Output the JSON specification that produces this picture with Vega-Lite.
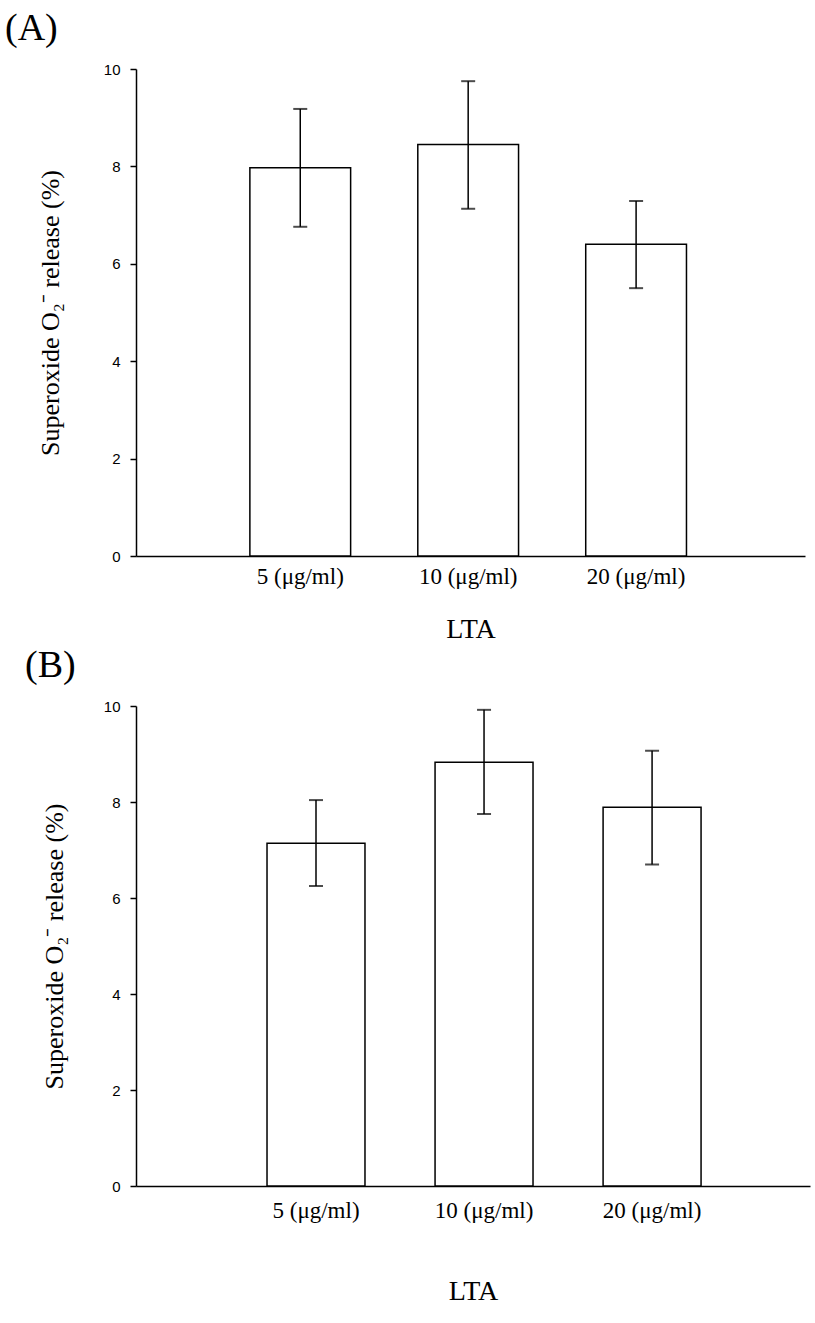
{
  "$schema": "https://vega.github.io/schema/vega-lite/v6.json",
  "background": "white",
  "padding": {"left": 5, "top": 10, "right": 5, "bottom": 5},
  "columns": 1,
  "spacing": 4,
  "datasets": {
    "d": [
      {"panel": "A", "dose": "5 (μg/ml)", "mean": 7.97, "lo": 6.76, "hi": 9.18},
      {"panel": "A", "dose": "10 (μg/ml)", "mean": 8.45, "lo": 7.13, "hi": 9.75},
      {"panel": "A", "dose": "20 (μg/ml)", "mean": 6.40, "lo": 5.50, "hi": 7.29},
      {"panel": "B", "dose": "5 (μg/ml)", "mean": 7.14, "lo": 6.25, "hi": 8.04},
      {"panel": "B", "dose": "10 (μg/ml)", "mean": 8.83, "lo": 7.75, "hi": 9.92},
      {"panel": "B", "dose": "20 (μg/ml)", "mean": 7.89, "lo": 6.70, "hi": 9.07}
    ]
  },
  "config": {
    "view": {"stroke": null},
    "axis": {"grid": false, "domainColor": "black", "tickColor": "black", "labelColor": "black", "titleColor": "black", "domainWidth": 1.5, "tickWidth": 1.5},
    "title": {"font": "Liberation Serif", "fontWeight": "normal", "fontSize": 38, "color": "black"}
  },
  "concat": [
    {
      "width": 669,
      "height": 487,
      "title": {"text": "(A)", "anchor": "start", "frame": "group", "dx": -131, "offset": 14},
      "data": {"name": "d"},
      "transform": [{"filter": "datum.panel === 'A'"}],
      "encoding": {
        "x": {
          "field": "dose", "type": "nominal",
          "sort": ["5 (μg/ml)", "10 (μg/ml)", "20 (μg/ml)"],
          "scale": {"paddingInner": 0.4, "paddingOuter": 0.692, "align": 0.49},
          "axis": {"title": "LTA", "labelAngle": 0, "ticks": false, "tickSize": 0, "labelPadding": 9, "labelFont": "Liberation Serif", "labelFontSize": 23, "titleFont": "Liberation Serif", "titleFontSize": 28, "titleFontWeight": "normal", "titlePadding": 27}
        }
      },
      "layer": [
        {
          "mark": {"type": "bar", "fill": "white", "stroke": "black", "strokeWidth": 1.5},
          "encoding": {
            "y": {"field": "mean", "type": "quantitative", "title": "Superoxide O₂⁻ release (%)",
              "scale": {"domain": [0, 10], "nice": false},
              "axis": {"values": [0, 2, 4, 6, 8, 10], "tickSize": 6, "labelPadding": 10, "labelFont": "Liberation Sans", "labelFontSize": 15, "titleFont": "Liberation Serif", "titleFontSize": 26, "titleFontWeight": "normal", "titlePadding": 40}}
          }
        },
        {
          "mark": {"type": "rule", "color": "black", "strokeWidth": 1.5},
          "encoding": {
            "y": {"field": "lo", "type": "quantitative", "title": "Superoxide O₂⁻ release (%)"},
            "y2": {"field": "hi"}
          }
        },
        {
          "mark": {"type": "tick", "color": "black", "size": 14, "thickness": 2},
          "encoding": {"y": {"field": "lo", "type": "quantitative", "title": "Superoxide O₂⁻ release (%)"}}
        },
        {
          "mark": {"type": "tick", "color": "black", "size": 14, "thickness": 2},
          "encoding": {"y": {"field": "hi", "type": "quantitative", "title": "Superoxide O₂⁻ release (%)"}}
        }
      ]
    },
    {
      "width": 674,
      "height": 480,
      "title": {"text": "(B)", "anchor": "start", "frame": "group", "dx": -111, "offset": 14},
      "data": {"name": "d"},
      "transform": [{"filter": "datum.panel === 'B'"}],
      "encoding": {
        "x": {
          "field": "dose", "type": "nominal",
          "sort": ["5 (μg/ml)", "10 (μg/ml)", "20 (μg/ml)"],
          "scale": {"paddingInner": 0.417, "paddingOuter": 0.714, "align": 0.546},
          "axis": {"title": "LTA", "labelAngle": 0, "ticks": false, "tickSize": 0, "labelPadding": 13, "labelFont": "Liberation Serif", "labelFontSize": 23, "titleFont": "Liberation Serif", "titleFontSize": 28, "titleFontWeight": "normal", "titlePadding": 55}
        }
      },
      "layer": [
        {
          "mark": {"type": "bar", "fill": "white", "stroke": "black", "strokeWidth": 1.5},
          "encoding": {
            "y": {"field": "mean", "type": "quantitative", "title": "Superoxide O₂⁻ release (%)",
              "scale": {"domain": [0, 10], "nice": false},
              "axis": {"values": [0, 2, 4, 6, 8, 10], "tickSize": 6, "labelPadding": 10, "labelFont": "Liberation Sans", "labelFontSize": 15, "titleFont": "Liberation Serif", "titleFontSize": 26, "titleFontWeight": "normal", "titlePadding": 36}}
          }
        },
        {
          "mark": {"type": "rule", "color": "black", "strokeWidth": 1.5},
          "encoding": {
            "y": {"field": "lo", "type": "quantitative", "title": "Superoxide O₂⁻ release (%)"},
            "y2": {"field": "hi"}
          }
        },
        {
          "mark": {"type": "tick", "color": "black", "size": 14, "thickness": 2},
          "encoding": {"y": {"field": "lo", "type": "quantitative", "title": "Superoxide O₂⁻ release (%)"}}
        },
        {
          "mark": {"type": "tick", "color": "black", "size": 14, "thickness": 2},
          "encoding": {"y": {"field": "hi", "type": "quantitative", "title": "Superoxide O₂⁻ release (%)"}}
        }
      ]
    }
  ]
}
